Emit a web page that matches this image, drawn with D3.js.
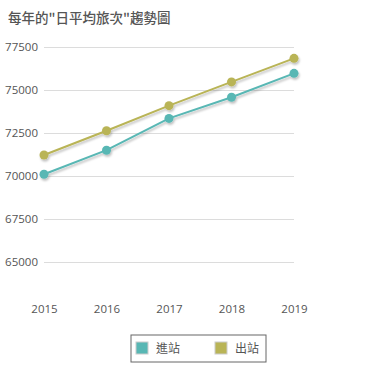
<!DOCTYPE html>
<html>
<head>
<meta charset="utf-8">
<script src="https://cdn.jsdelivr.net/npm/d3@7"></script>
<style>
  body { margin: 0; background: #fff; font-family: "Open Sans", "Noto Sans CJK TC", sans-serif; }
  svg text { fill: #555; }
</style>
</head>
<body>
<div class="chart"></div>
<script>
const years = ['2015', '2016', '2017', '2018', '2019'];
const entries = [70100, 71500, 73350, 74580, 75970];   // 進站
const exits = [71220, 72630, 74090, 75470, 76840];     // 出站
const yTicks = [65000, 67500, 70000, 72500, 75000, 77500];
const seriesNames = ['進站', '出站'];
const colors = ['#58b7b4', '#b9b456'];

const width = 370, height = 369;
const margin = {top: 47, left: 44, right: 76, bottom: 64};

const svg = d3.select(".chart")
    .append("svg")
    .attr("width", width)
    .attr("height", height);

const defs = svg.append("defs");
const shadow = defs.append("filter").attr("id", "shadow")
    .attr("x", "-10%").attr("y", "-10%").attr("width", "130%").attr("height", "140%");
shadow.append("feDropShadow")
    .attr("dx", 1).attr("dy", 2).attr("stdDeviation", 1.2)
    .attr("flood-color", "#000").attr("flood-opacity", 0.25);

svg.append("text")
    .attr("x", 8).attr("y", 23)
    .attr("font-size", 13.5)
    .attr("font-weight", 500)
    .attr("font-family", "'Noto Sans CJK TC', sans-serif")
    .style("fill", "#555")
    .text('每年的"日平均旅次"趨勢圖');

const x = d3.scalePoint()
    .domain(years)
    .range([margin.left, width - margin.right]);

const y = d3.scaleLinear()
    .domain([62500, 77500])
    .range([height - margin.bottom, margin.top]);

// gridlines + y labels
const yAxis = svg.append("g")
    .attr("transform", `translate(${margin.left},0)`)
    .call(d3.axisLeft(y).tickValues(yTicks).tickSize(-(width - margin.right - margin.left)).tickPadding(6).tickFormat(d3.format("d")));
yAxis.select(".domain").remove();
yAxis.selectAll("line").attr("stroke", "#dcdcdc");
yAxis.selectAll("text").attr("font-size", 11.5).style("fill", "#555").attr("font-family", "'Open Sans', sans-serif");

// x labels
const xAxis = svg.append("g")
    .attr("transform", `translate(0,${height - margin.bottom})`)
    .call(d3.axisBottom(x).tickSize(0).tickPadding(0));
xAxis.select(".domain").remove();
xAxis.selectAll("text").attr("font-size", 11.5).style("fill", "#555").attr("font-family", "'Open Sans', sans-serif");

const series = [entries, exits];
const line = d3.line().x((d, i) => x(years[i])).y(d => y(d));

series.forEach((vals, s) => {
    const g = svg.append("g").attr("filter", "url(#shadow)");
    g.append("path")
        .datum(vals)
        .attr("d", line)
        .attr("fill", "none")
        .attr("stroke", colors[s])
        .attr("stroke-width", 2);
    g.selectAll("circle")
        .data(vals)
        .join("circle")
        .attr("cx", (d, i) => x(years[i]))
        .attr("cy", d => y(d))
        .attr("r", 4.5)
        .attr("fill", colors[s]);
});

// legend
const legend = svg.append("g").attr("transform", "translate(131,335)");
legend.append("rect")
    .attr("width", 135).attr("height", 27)
    .attr("fill", "#fff").attr("stroke", "#666").attr("stroke-width", 1);
seriesNames.forEach((name, i) => {
    const lg = legend.append("g").attr("transform", `translate(${5 + i * 79},7)`);
    lg.append("rect")
        .attr("width", 12).attr("height", 12)
        .attr("fill", colors[i]).attr("stroke", "#ccc").attr("stroke-width", 1);
    lg.append("text")
        .attr("x", 20).attr("y", 10.5)
        .attr("font-size", 12)
        .attr("font-family", "'Noto Sans CJK TC', sans-serif")
        .style("fill", "#555")
        .text(name);
});
</script>
</body>
</html>
